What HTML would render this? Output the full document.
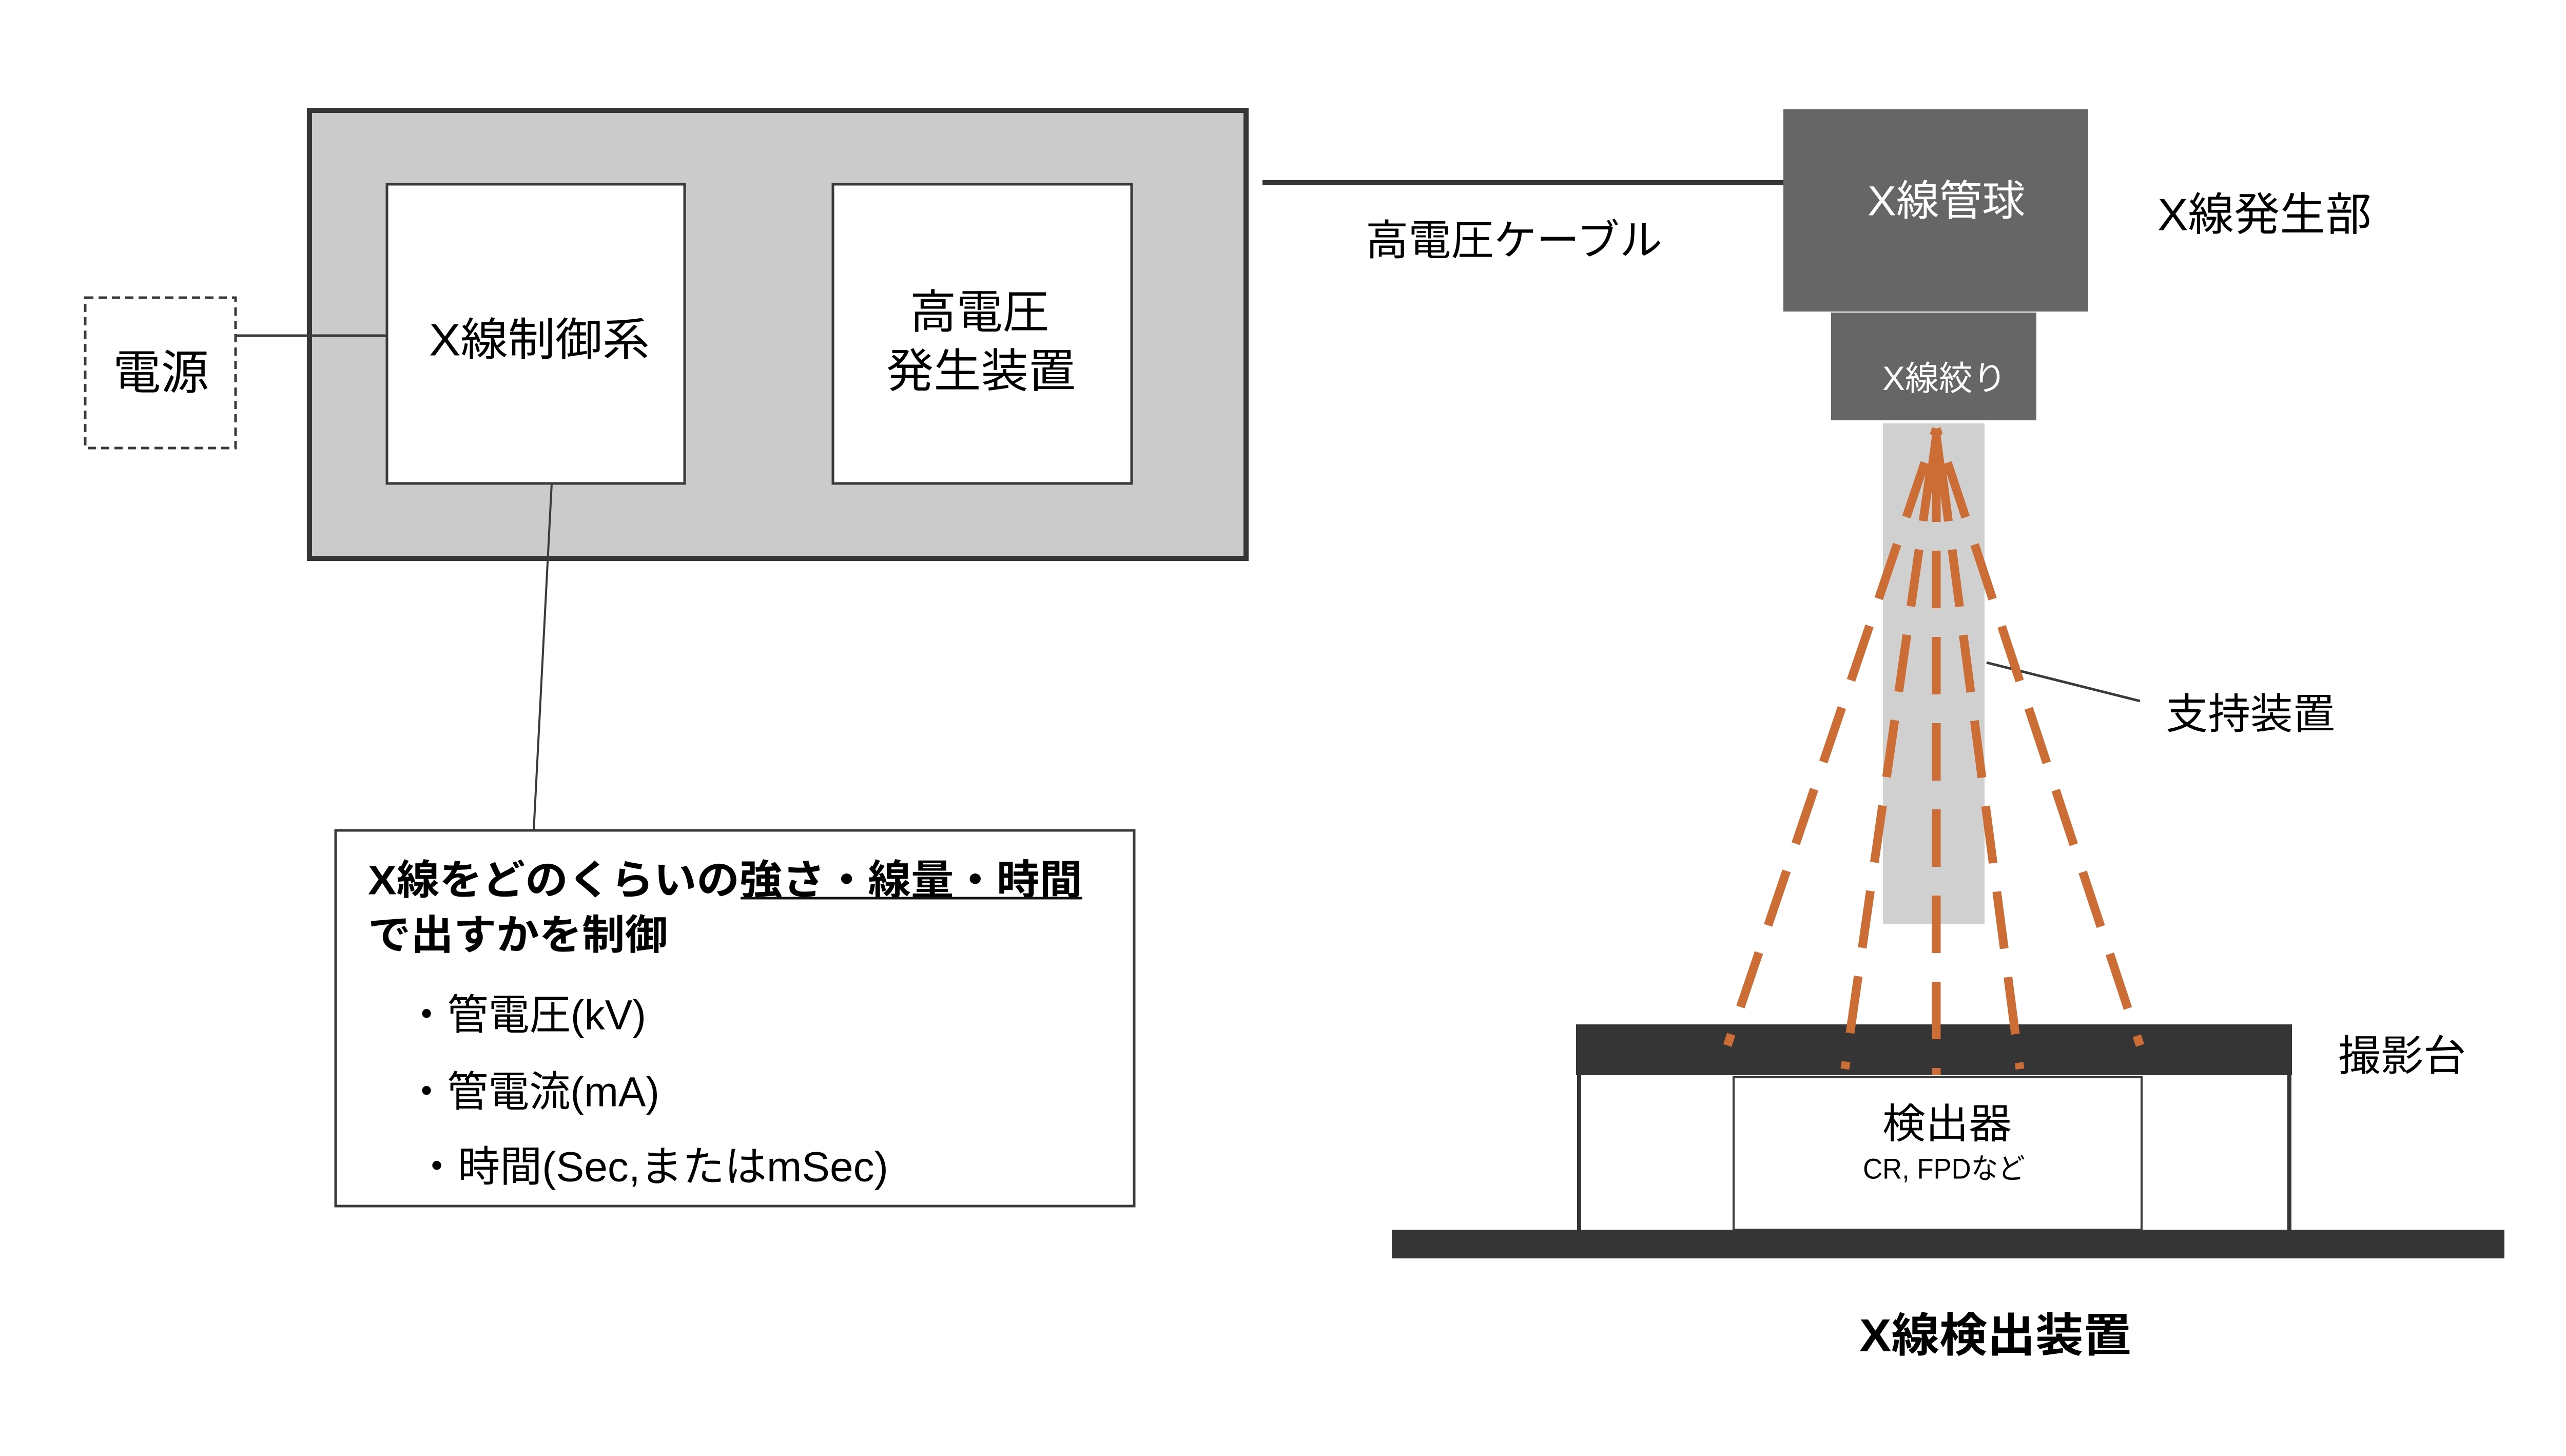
<!DOCTYPE html>
<html><head><meta charset="utf-8"><style>
html,body{margin:0;padding:0;background:#fff;}
svg{display:block;}
text{font-family:"Liberation Sans","Noto Sans CJK JP",sans-serif;}
</style></head><body>
<svg width="5037" height="2837" viewBox="0 0 5037 2837" xmlns="http://www.w3.org/2000/svg">
<rect width="5037" height="2837" fill="#fff"/>
<!-- control cabinet -->
<rect x="603" y="215" width="1825" height="873" fill="#cbcbcb" stroke="#353535" stroke-width="10"/>
<rect x="754" y="359" width="580" height="583" fill="#fff" stroke="#3a3a3a" stroke-width="5"/>
<rect x="1623" y="359" width="582" height="583" fill="#fff" stroke="#3a3a3a" stroke-width="5"/>
<text x="836" y="662" font-size="88" textLength="430" lengthAdjust="spacingAndGlyphs" dominant-baseline="central">X線制御系</text>
<text x="1773" y="609" font-size="90" textLength="271" lengthAdjust="spacingAndGlyphs" dominant-baseline="central">高電圧</text>
<text x="1727" y="724" font-size="90" textLength="369" lengthAdjust="spacingAndGlyphs" dominant-baseline="central">発生装置</text>
<!-- power -->
<rect x="166" y="580" width="293" height="293" fill="#fff" stroke="#3a3a3a" stroke-width="5" stroke-dasharray="16,10"/>
<text x="220" y="727" font-size="92" textLength="187" lengthAdjust="spacingAndGlyphs" dominant-baseline="central">電源</text>
<line x1="459" y1="654" x2="754" y2="654" stroke="#3a3a3a" stroke-width="5"/>
<!-- leader to info box -->
<line x1="1075" y1="942" x2="1040" y2="1618" stroke="#3a3a3a" stroke-width="4"/>
<!-- info box -->
<rect x="654" y="1618" width="1556" height="732" fill="#fff" stroke="#3a3a3a" stroke-width="5"/>
<text x="717" y="1715" font-size="80" font-weight="bold" textLength="1392" lengthAdjust="spacingAndGlyphs" dominant-baseline="central">X線をどのくらいの強さ・線量・時間</text>
<line x1="1443" y1="1750" x2="2109" y2="1750" stroke="#111" stroke-width="5"/>
<text x="717" y="1822" font-size="80" font-weight="bold" textLength="584" lengthAdjust="spacingAndGlyphs" dominant-baseline="central">で出すかを制御</text>
<text x="791" y="1978" font-size="82" textLength="468" lengthAdjust="spacingAndGlyphs" dominant-baseline="central">・管電圧(kV)</text>
<text x="791" y="2128" font-size="82" textLength="494" lengthAdjust="spacingAndGlyphs" dominant-baseline="central">・管電流(mA)</text>
<text x="810" y="2274" font-size="82" textLength="921" lengthAdjust="spacingAndGlyphs" dominant-baseline="central">・時間(Sec,またはmSec)</text>
<!-- cable -->
<line x1="2460" y1="356" x2="3475" y2="356" stroke="#353535" stroke-width="10"/>
<text x="2661" y="469" font-size="82" textLength="578" lengthAdjust="spacingAndGlyphs" dominant-baseline="central">高電圧ケーブル</text>
<!-- tube -->
<rect x="3475" y="213" width="594" height="394" fill="#666"/>
<text x="3639" y="392" font-size="82" fill="#fff" textLength="307" lengthAdjust="spacingAndGlyphs" dominant-baseline="central">X線管球</text>
<rect x="3568" y="609" width="400" height="210" fill="#666"/>
<text x="3668" y="737" font-size="66" fill="#fff" textLength="242" lengthAdjust="spacingAndGlyphs" dominant-baseline="central">X線絞り</text>
<text x="4204" y="418" font-size="88" textLength="417" lengthAdjust="spacingAndGlyphs" dominant-baseline="central">X線発生部</text>
<!-- support column -->
<rect x="3669" y="825" width="198" height="976" fill="#d0d0d0"/>
<line x1="3871" y1="1291" x2="4170" y2="1366" stroke="#3a3a3a" stroke-width="5"/>
<text x="4220" y="1392" font-size="82" textLength="330" lengthAdjust="spacingAndGlyphs" dominant-baseline="central">支持装置</text>
<!-- table -->
<rect x="3071" y="1996" width="1395" height="99" fill="#353535"/>
<rect x="3073" y="2095" width="8" height="302" fill="#353535"/>
<rect x="4457" y="2095" width="8" height="302" fill="#353535"/>
<rect x="3378" y="2099" width="795" height="297" fill="#fff" stroke="#3a3a3a" stroke-width="4"/>
<text x="3668" y="2190" font-size="80" textLength="252" lengthAdjust="spacingAndGlyphs" dominant-baseline="central">検出器</text>
<text x="3630" y="2277" font-size="56" textLength="316" lengthAdjust="spacingAndGlyphs" dominant-baseline="central">CR, FPDなど</text>
<rect x="2712" y="2396" width="2168" height="56" fill="#353535"/>
<text x="4556" y="2058" font-size="82" textLength="249" lengthAdjust="spacingAndGlyphs" dominant-baseline="central">撮影台</text>
<text x="3623" y="2603" font-size="90" font-weight="bold" textLength="530" lengthAdjust="spacingAndGlyphs" dominant-baseline="central">X線検出装置</text>
<!-- rays -->
<g stroke="#cc6d35" stroke-width="17" fill="none" stroke-dasharray="112,56" stroke-dashoffset="-70">
<line x1="3773" y1="835" x2="3366" y2="2037"/>
<line x1="3773" y1="835" x2="3595" y2="2083"/>
<line x1="3773" y1="835" x2="3773" y2="2095"/>
<line x1="3773" y1="835" x2="3936" y2="2083"/>
<line x1="3773" y1="835" x2="4170" y2="2037"/>
</g>
<polygon points="3766,838 3780,838 3795,950 3751,950" fill="#cc6d35"/>
</svg>
</body></html>
